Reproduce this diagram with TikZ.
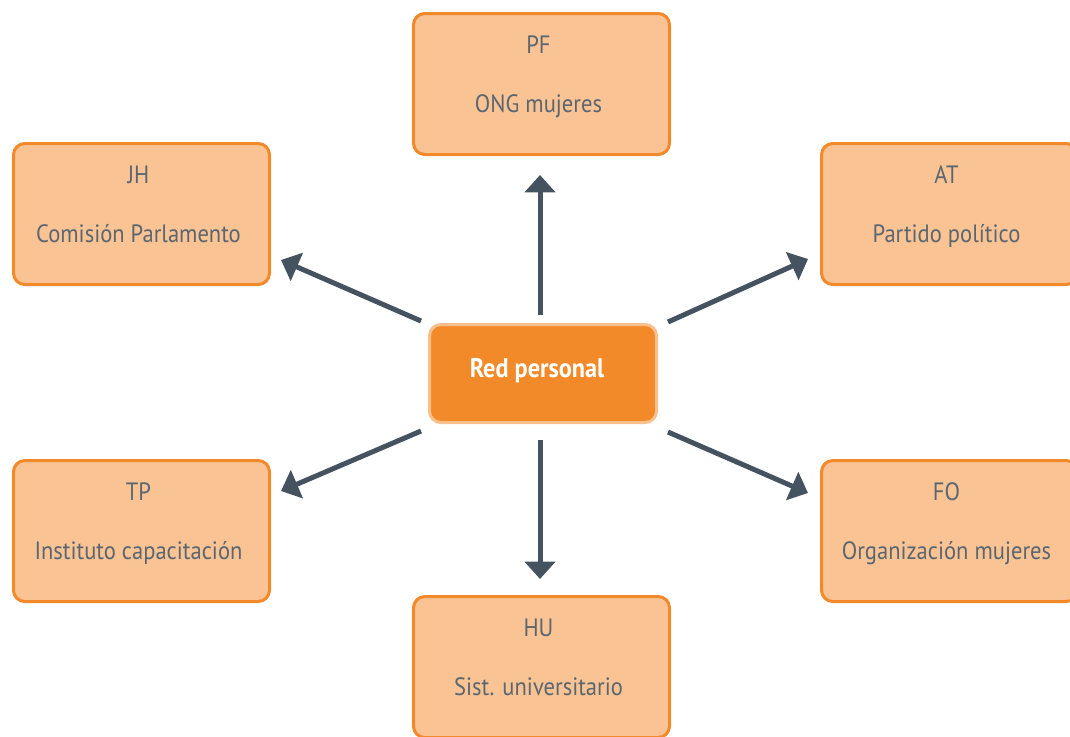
\documentclass[tikz,border=0pt]{standalone}
\usepackage{fontspec}
\setmainfont{PT Sans}[FakeStretch=0.9]
\usetikzlibrary{arrows.meta}
\definecolor{obrd}{HTML}{F28A2B}
\definecolor{ofill}{HTML}{F9C394}
\definecolor{cfill}{HTML}{F38A2A}
\definecolor{cbrd}{HTML}{F9C08E}
\definecolor{arr}{HTML}{44535F}
\definecolor{txt}{HTML}{5B6670}
\begin{document}
\begin{tikzpicture}[x=0.75pt,y=-0.75pt,
  outbox/.style={draw=obrd,fill=ofill,line width=2.25pt,rounded corners=8.5pt,
    minimum width=259*0.75pt-2.25pt,minimum height=144*0.75pt-2.25pt,inner sep=0pt},
  centbox/.style={draw=cbrd,fill=cfill,line width=2.25pt,rounded corners=8.5pt,
    minimum width=230*0.75pt-2.25pt,minimum height=101*0.75pt-2.25pt,inner sep=0pt},
  lbl/.style={anchor=base,text=txt,font=\fontsize{18.8pt}{22pt}\selectfont,inner sep=0pt},
  clbl/.style={anchor=base,text=white,font=\fontsize{20.2pt}{24pt}\selectfont\bfseries,inner sep=0pt},
  conn/.style={draw=arr,line width=3.75pt,-{Triangle[width=22.5pt,length=13pt]}}]
\useasboundingbox (0,0) rectangle (1070,736);
% boxes
\node[outbox] (pf) at (541.5,84) {};
\node[outbox] (jh) at (141.5,214) {};
\node[outbox] (at) at (949.5,214) {};
\node[outbox] (tp) at (141.5,531) {};
\node[outbox] (fo) at (949.5,531) {};
\node[outbox] (hu) at (541.5,667) {};
\node[centbox] (red) at (543,373.5) {};
% labels
\node[lbl] (pf1) at (538.5,53) {PF};
\node[lbl] (pf2) at (538.5,112) {ONG mujeres};
\node[lbl] (jh1) at (138.5,183) {JH};
\node[lbl] (jh2) at (138.5,242) {Comisión Parlamento};
\node[lbl] (at1) at (946.5,183) {AT};
\node[lbl] (at2) at (946.5,242) {Partido político};
\node[lbl] (tp1) at (138.5,500) {TP};
\node[lbl] (tp2) at (138.5,559) {Instituto capacitación};
\node[lbl] (fo1) at (946.5,500) {FO};
\node[lbl] (fo2) at (946.5,559) {Organización mujeres};
\node[lbl] (hu1) at (538.5,636) {HU};
\node[lbl] (hu2) at (538.5,695) {Sist. universitario};
\node[clbl] (red1) at (537,377) {Red personal};
% connectors
\draw[conn] ([shift={(-3,-8)}]red.north) -- ([shift={(-1.5,19)}]pf.south);
\draw[conn] ([shift={(-3,16)}]red.south) -- ([shift={(-1.5,-16)}]hu.north);
\draw[conn] ([shift={(-7,-2)}]red.north west) -- ([shift={(10,-26)}]jh.south east);
\draw[conn] ([shift={(10,-1)}]red.north east) -- ([shift={(-12,-27)}]at.south west);
\draw[conn] ([shift={(-7,7)}]red.south west) -- ([shift={(10,32)}]tp.north east);
\draw[conn] ([shift={(10,8)}]red.south east) -- ([shift={(-12,34)}]fo.north west);
\end{tikzpicture}
\end{document}
